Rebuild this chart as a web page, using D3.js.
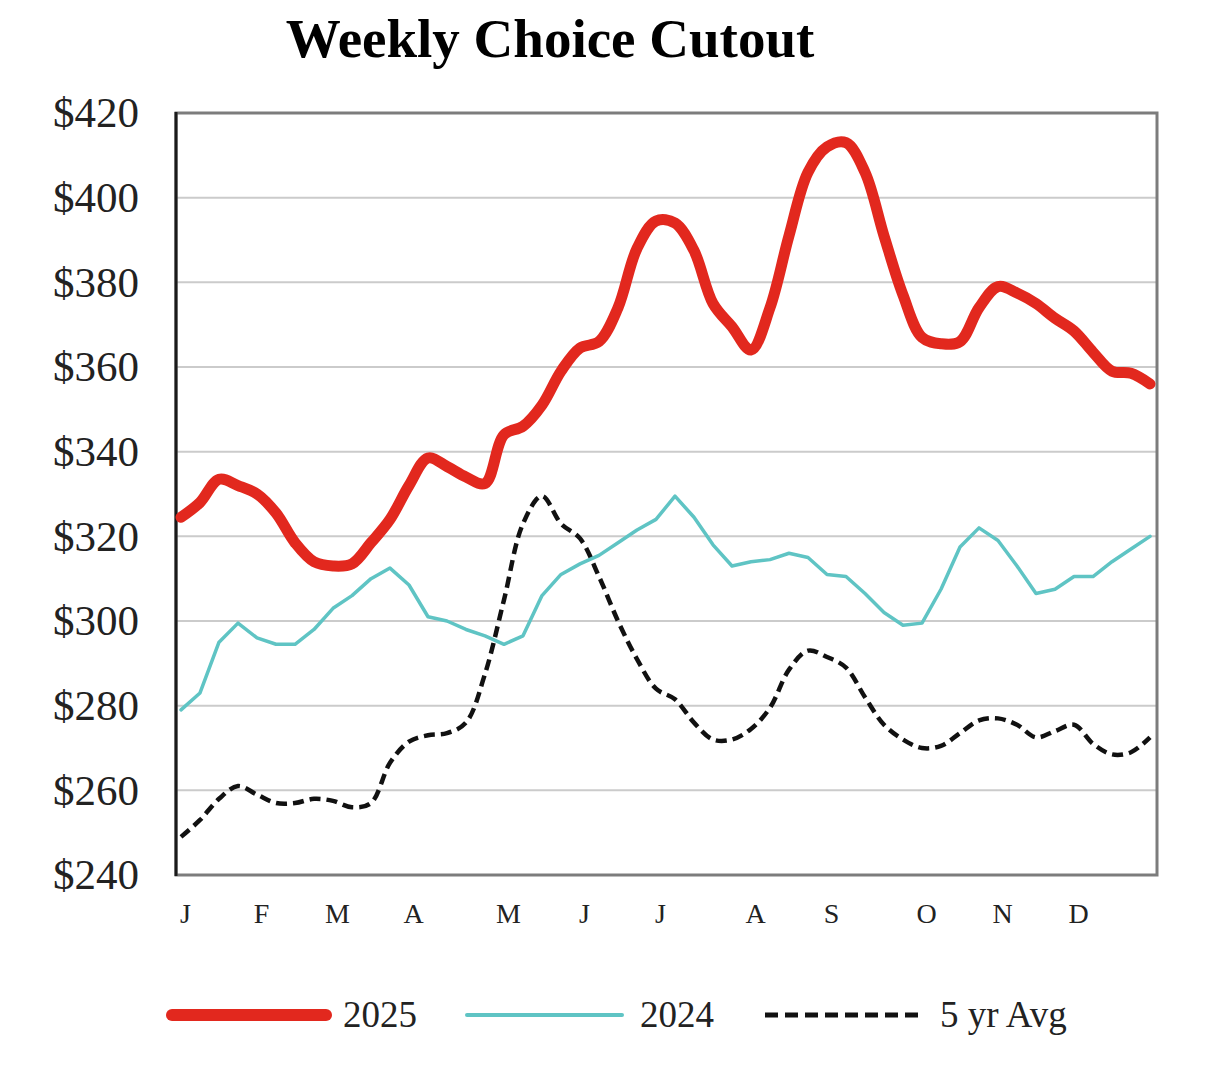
<!DOCTYPE html>
<html>
<head>
<meta charset="utf-8">
<script src="https://cdn.jsdelivr.net/npm/d3@7.9.0/dist/d3.min.js"></script>
<style>
  html, body { margin: 0; padding: 0; background: #fff; }
  svg { display: block; font-family: "Liberation Serif", "Times New Roman", serif; }
</style>
</head>
<body>
<svg id="chart" width="1232" height="1074"></svg>
<script>
// weekly values, week 1..52
const weeks = d3.range(52);

const cutout2025 = [
  324.5, 328, 333.5, 332, 330, 325.5, 318.5, 314, 313, 313.5, 318.5, 324, 332,
  338.5, 336.5, 334, 332.5, 344, 346, 351, 359, 364.5, 366, 374, 388, 394.5,
  394, 387.5, 375, 369.5, 364, 374, 391, 406, 412, 413, 406, 391, 377,
  367, 365.5, 366, 374, 379, 377.5, 375, 371.5, 368.5, 363.5, 359, 358.5, 356
];

const cutout2024 = [
  279, 283, 295, 299.5, 296, 294.5, 294.5, 298, 303, 306, 310, 312.5, 308.5,
  301, 300, 298, 296.5, 294.5, 296.5, 306, 311, 313.5, 315.5, 318.5, 321.5, 324,
  329.5, 324.5, 318, 313, 314, 314.5, 316, 315, 311, 310.5, 306.5, 302, 299,
  299.5, 307.5, 317.5, 322, 319, 313, 306.5, 307.5, 310.5, 310.5, 314, 317, 320
];

const avg5yr = [
  249, 253, 258, 261, 259, 257, 257, 258, 257.5, 256, 257, 266.5, 271.5,
  273, 273.5, 276, 287.5, 305, 323, 329.5, 323, 319.5, 310.5, 300, 291, 284,
  281.5, 276, 272, 272, 274.5, 279.5, 288.5, 293, 291.5, 289, 282, 275.5, 272,
  270, 270.5, 273.5, 276.5, 277, 275.5, 272.5, 274, 275.5, 271, 268.5, 269, 272.5
];

const monthLabels = ['J', 'F', 'M', 'A', 'M', 'J', 'J', 'A', 'S', 'O', 'N', 'D'];
const monthWeeks = [0, 4, 8, 12, 17, 21, 25, 30, 34, 39, 43, 47];
const yTicks = [240, 260, 280, 300, 320, 340, 360, 380, 400, 420];

const series = [
  { label: '2025', values: cutout2025, color: '#e2281e', width: 11, dash: null, legendDash: null, legendWidth: 12, curve: d3.curveCatmullRom.alpha(0.5) },
  { label: '2024', values: cutout2024, color: '#5fc4c4', width: 3.5, dash: null, legendDash: null, legendWidth: 4, curve: d3.curveLinear },
  { label: '5 yr Avg', values: avg5yr, color: '#111', width: 4.5, dash: '11,6', legendDash: '13,7', legendWidth: 5, curve: d3.curveCatmullRom.alpha(0.5) }
];

const svg = d3.select('#chart');
const plot = { left: 176, right: 1157, top: 113, bottom: 875 };

const x = d3.scaleLinear().domain([0, 51]).range([181, 1150]);
const y = d3.scaleLinear().domain([240, 420]).range([plot.bottom, plot.top]);

// title
svg.append('text')
  .attr('x', 550).attr('y', 57)
  .attr('text-anchor', 'middle')
  .attr('font-size', 55).attr('font-weight', 'bold')
  .text('Weekly Choice Cutout');

// gridlines
svg.append('g')
  .selectAll('line')
  .data(yTicks.slice(1, -1))
  .join('line')
  .attr('x1', plot.left).attr('x2', plot.right)
  .attr('y1', (d) => y(d)).attr('y2', (d) => y(d))
  .attr('stroke', '#cbcbcb').attr('stroke-width', 2);

// frame
svg.append('rect')
  .attr('x', plot.left).attr('y', plot.top)
  .attr('width', plot.right - plot.left).attr('height', plot.bottom - plot.top)
  .attr('fill', 'none').attr('stroke', '#7c7c7c').attr('stroke-width', 3);
svg.append('line')
  .attr('x1', plot.left).attr('x2', plot.left)
  .attr('y1', plot.top - 1).attr('y2', plot.bottom + 1)
  .attr('stroke', '#1a1a1a').attr('stroke-width', 3);

// y axis labels
const yAxis = d3.axisLeft(y)
  .tickValues(yTicks)
  .tickSize(0)
  .tickPadding(37)
  .tickFormat((d) => `$${d}`);
svg.append('g')
  .attr('transform', `translate(${plot.left},0)`)
  .call(yAxis)
  .call((g) => g.select('.domain').remove())
  .call((g) => g.selectAll('text')
    .attr('font-family', '"Liberation Serif", "Times New Roman", serif')
    .attr('font-size', 43).attr('fill', '#222'));

// x axis month labels
const xAxis = d3.axisBottom(x)
  .tickValues(monthWeeks)
  .tickSize(0)
  .tickPadding(28)
  .tickFormat((d, i) => monthLabels[i]);
svg.append('g')
  .attr('transform', `translate(4,${plot.bottom})`)
  .call(xAxis)
  .call((g) => g.select('.domain').remove())
  .call((g) => g.selectAll('text')
    .attr('font-family', '"Liberation Serif", "Times New Roman", serif')
    .attr('font-size', 28).attr('fill', '#222'));

// lines (drawn back to front: 5yr, 2024, 2025)
series.slice().reverse().forEach((s) => {
  const line = d3.line()
    .x((d, i) => x(weeks[i]))
    .y((d) => y(d))
    .curve(s.curve);
  svg.append('path')
    .datum(s.values)
    .attr('d', line)
    .attr('fill', 'none')
    .attr('stroke', s.color)
    .attr('stroke-width', s.width)
    .attr('stroke-linejoin', 'round')
    .attr('stroke-linecap', s.dash ? 'butt' : 'round')
    .attr('stroke-dasharray', s.dash);
});

// legend
const legendItems = [
  { x1: 172, x2: 326, tx: 343 },
  { x1: 467, x2: 622, tx: 640 },
  { x1: 765, x2: 925, tx: 940 }
];
const legend = svg.append('g');
series.forEach((s, i) => {
  const pos = legendItems[i];
  legend.append('line')
    .attr('x1', pos.x1).attr('x2', pos.x2)
    .attr('y1', 1015).attr('y2', 1015)
    .attr('stroke', s.color)
    .attr('stroke-width', s.legendWidth)
    .attr('stroke-linecap', s.dash ? 'butt' : 'round')
    .attr('stroke-dasharray', s.legendDash);
  legend.append('text')
    .attr('x', pos.tx).attr('y', 1027)
    .attr('font-size', 37).attr('fill', '#222')
    .text(s.label);
});
</script>
</body>
</html>
